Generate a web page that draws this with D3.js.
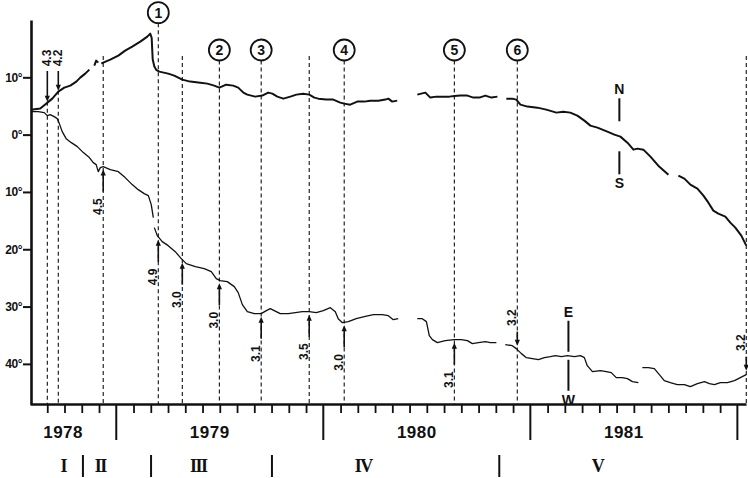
<!DOCTYPE html>
<html>
<head>
<meta charset="utf-8">
<script src="https://cdn.jsdelivr.net/npm/d3@7"></script>
<style>
  body { margin: 0; background: #fff; }
  svg { display: block; }
</style>
</head>
<body>
<svg width="748" height="478"></svg>
<script>
// ---- data (time in decimal years, values in degrees; N / E positive) ----
const nsSegments = [
  [[1978.589,4.36],[1978.633,4.54],[1978.667,5.58],[1978.691,6.28],[1978.720,7.50],[1978.749,8.20],[1978.778,8.55],[1978.807,9.25],[1978.826,9.95],[1978.850,10.64],[1978.870,11.34]],
  [[1978.894,12.04],[1978.903,12.91],[1978.913,12.56]],
  [[1978.928,12.39],[1978.937,12.56],[1978.971,13.09],[1979.010,13.78],[1979.043,14.66],[1979.077,15.36],[1979.116,16.23],[1979.150,17.10],[1979.164,17.62],[1979.171,16.90],[1979.176,13.09],[1979.184,11.90],[1979.193,11.30],[1979.208,10.99],[1979.251,10.64],[1979.280,10.29],[1979.319,9.60],[1979.357,9.25],[1979.406,9.07],[1979.440,8.90],[1979.473,8.55],[1979.498,8.20],[1979.531,8.72],[1979.565,8.55],[1979.589,8.20],[1979.614,7.33],[1979.633,6.98],[1979.671,6.63],[1979.705,6.81],[1979.734,7.33],[1979.754,7.15],[1979.778,6.63],[1979.807,6.28],[1979.841,6.63],[1979.870,6.98],[1979.903,7.15],[1979.932,6.98],[1979.957,6.46],[1979.976,6.28],[1980.014,6.11],[1980.048,6.11],[1980.082,5.58],[1980.101,5.41],[1980.130,5.23],[1980.164,5.76],[1980.198,5.76],[1980.227,5.93],[1980.266,5.93],[1980.300,6.11],[1980.314,6.28],[1980.333,5.76],[1980.357,5.93]],
  [[1980.454,6.98],[1980.473,7.15],[1980.493,7.33],[1980.517,6.46],[1980.546,6.63],[1980.580,6.63],[1980.609,6.63],[1980.633,6.72],[1980.662,6.81],[1980.696,6.81],[1980.725,6.46],[1980.754,6.46],[1980.783,6.81],[1980.812,6.46],[1980.841,6.63]],
  [[1980.884,6.28],[1980.913,6.28],[1980.932,6.11],[1980.952,5.23],[1980.986,4.89],[1981.034,4.71],[1981.077,4.36],[1981.126,3.84],[1981.159,4.01],[1981.193,3.84],[1981.227,3.32],[1981.261,2.44],[1981.290,1.57],[1981.324,1.22],[1981.372,0.52],[1981.406,0.00],[1981.435,-0.35],[1981.469,-1.40],[1981.498,-2.62],[1981.517,-2.44],[1981.546,-2.62],[1981.580,-3.84],[1981.618,-5.41],[1981.667,-6.98]],
  [[1981.715,-7.15],[1981.744,-7.68],[1981.773,-8.72],[1981.807,-9.42],[1981.836,-10.64],[1981.860,-11.87],[1981.884,-13.26],[1981.908,-13.78],[1981.942,-14.31],[1981.966,-15.36],[1981.990,-16.23],[1982.019,-17.62],[1982.043,-19.37]]
];

const ewSegments = [
  [[1978.589,4.01],[1978.623,4.01],[1978.652,3.84],[1978.667,3.32],[1978.681,3.49],[1978.700,3.14],[1978.715,2.79],[1978.725,1.92],[1978.739,0.52],[1978.758,-0.70],[1978.783,-1.40],[1978.812,-2.09],[1978.841,-3.14],[1978.870,-4.01],[1978.889,-4.89],[1978.903,-5.23],[1978.913,-6.46],[1978.923,-5.76],[1978.937,-5.58],[1978.971,-6.11],[1979.010,-6.46],[1979.043,-7.50],[1979.077,-8.72],[1979.106,-9.60],[1979.135,-10.29],[1979.155,-10.64],[1979.169,-12.21],[1979.179,-14.48]],
  [[1979.184,-16.23],[1979.198,-17.62],[1979.222,-18.67],[1979.251,-19.37],[1979.285,-20.42],[1979.314,-21.64],[1979.338,-22.51],[1979.382,-23.03],[1979.425,-23.38],[1979.459,-23.91],[1979.483,-25.13],[1979.502,-25.48],[1979.536,-25.65],[1979.570,-26.52],[1979.589,-27.57],[1979.609,-29.66],[1979.633,-30.89],[1979.667,-31.24],[1979.700,-31.24],[1979.725,-30.71],[1979.744,-30.36],[1979.763,-30.71],[1979.792,-31.24],[1979.831,-31.24],[1979.865,-31.06],[1979.899,-30.89],[1979.932,-30.89],[1979.966,-31.06],[1980.000,-30.71],[1980.034,-30.19],[1980.058,-30.89],[1980.072,-32.11],[1980.092,-32.81],[1980.121,-32.63],[1980.159,-32.11],[1980.198,-31.76],[1980.242,-31.41],[1980.285,-31.41],[1980.314,-31.59],[1980.338,-32.28],[1980.362,-32.11]],
  [[1980.454,-32.11],[1980.478,-32.11],[1980.498,-32.63],[1980.512,-35.07],[1980.527,-35.77],[1980.551,-36.29],[1980.589,-35.94],[1980.633,-35.77],[1980.667,-35.77],[1980.696,-35.94],[1980.720,-36.47],[1980.749,-36.29],[1980.783,-36.12],[1980.807,-36.29],[1980.836,-36.29]],
  [[1980.879,-36.64],[1980.913,-36.82],[1980.932,-37.34],[1980.957,-38.21],[1980.981,-38.91],[1981.010,-39.09],[1981.039,-39.26],[1981.068,-38.91],[1981.097,-38.74],[1981.121,-38.56],[1981.150,-38.74],[1981.179,-38.56],[1981.213,-38.74],[1981.242,-38.56],[1981.261,-38.91],[1981.275,-40.31],[1981.300,-41.35],[1981.338,-41.18],[1981.367,-41.35],[1981.391,-41.53],[1981.415,-42.40],[1981.444,-42.40],[1981.469,-42.58],[1981.493,-43.10],[1981.522,-43.28]],
  [[1981.541,-40.66],[1981.570,-40.66],[1981.599,-40.83],[1981.623,-41.88],[1981.647,-42.93],[1981.676,-43.28],[1981.710,-43.63],[1981.744,-43.63],[1981.773,-43.98],[1981.807,-43.45],[1981.841,-43.10],[1981.865,-43.45],[1981.889,-43.63],[1981.918,-43.28],[1981.952,-43.28],[1981.986,-42.93],[1982.014,-42.40],[1982.043,-41.88]]
];

// events: time, magnitude label, circled number, which curve the arrow points at, arrow direction
const eventTimes   = [1978.667, 1978.720, 1978.937, 1979.203, 1979.319, 1979.498, 1979.700, 1979.932, 1980.101, 1980.633, 1980.937, 1982.043];
const eventMags    = ["4.3", "4.2", "4.5", "4.9", "3.0", "3.0", "3.1", "3.5", "3.0", "3.1", "3.2", "3.2"];
const eventNumbers = ["", "", "", "1", "", "2", "3", "", "4", "5", "6", ""];
const eventCurve   = ["NS", "NS", "EW", "EW", "EW", "EW", "EW", "EW", "EW", "EW", "EW", "EW"];
const eventDir     = ["down", "down", "up", "up", "up", "up", "up", "up", "up", "up", "down", "down"];

const degTicks = [10, 0, -10, -20, -30, -40];
const degLabels = ["10°", "0°", "10°", "20°", "30°", "40°"];
const years = [1978, 1979, 1980, 1981];
const phaseNames = ["I", "II", "III", "IV", "V"];
const phaseBounds = [1978.839, 1979.168, 1979.752, 1980.850];
const phaseLabelAt = [1978.744, 1978.923, 1979.396, 1980.193, 1981.324];
const nsMarkerT = 1981.430;
const ewMarkerT = 1981.184;

// ---- scales ----
const tStart = 1978 + 7 / 12, tEnd = 1982 + 0.5 / 12;
const x = d3.scaleLinear().domain([tStart, tEnd]).range([30, 746]);
const y = d3.scaleLinear().domain([-47, 20]).range([404, 20]);

const ink = "#111";
const sans = "'Liberation Sans', Arial, sans-serif";
const svg = d3.select("svg");

// ---- axes ----
const yAxisG = svg.append("g")
  .attr("transform", `translate(${x(tStart) + 1},0)`)
  .call(d3.axisLeft(y).tickValues(degTicks).tickFormat((d, i) => degLabels[i])
    .tickSize(8).tickSizeOuter(0).tickPadding(1));
yAxisG.select(".domain").attr("stroke", ink).attr("stroke-width", 2.6);
yAxisG.selectAll(".tick line").attr("stroke", ink).attr("stroke-width", 2);
yAxisG.selectAll(".tick text").attr("fill", ink).attr("font-family", sans)
  .attr("font-weight", "bold").attr("font-size", 12).attr("letter-spacing", -0.5);

const monthTicks = d3.range(8, 49).filter(m => m % 12 !== 0).map(m => 1978 + m / 12);
const xAxisG = svg.append("g")
  .attr("transform", `translate(0,${y(-47)})`)
  .call(d3.axisBottom(x).tickValues(monthTicks).tickFormat("").tickSize(9).tickSizeOuter(0));
xAxisG.select(".domain").attr("stroke", ink).attr("stroke-width", 2.6);
xAxisG.selectAll(".tick line").attr("stroke", ink).attr("stroke-width", 1.8);

// year boundaries and labels
svg.append("g").selectAll("line").data(years.map(d => d + 1)).join("line")
  .attr("x1", d => x(d)).attr("x2", d => x(d))
  .attr("y1", 404).attr("y2", 440)
  .attr("stroke", ink).attr("stroke-width", 2);

svg.append("g").selectAll("text").data(years).join("text")
  .attr("x", d => (x(Math.max(d, tStart)) + x(Math.min(d + 1, tEnd))) / 2 - 10)
  .attr("y", 438)
  .attr("text-anchor", "middle")
  .attr("font-family", sans).attr("font-weight", "bold").attr("font-size", 17)
  .attr("letter-spacing", 0.5).attr("fill", ink)
  .text(d => d);

// phases
svg.append("g").selectAll("line").data(phaseBounds).join("line")
  .attr("x1", d => x(d)).attr("x2", d => x(d))
  .attr("y1", 455).attr("y2", 477)
  .attr("stroke", ink).attr("stroke-width", 2);

svg.append("g").selectAll("text").data(phaseNames).join("text")
  .attr("x", (d, i) => x(phaseLabelAt[i]))
  .attr("y", 472)
  .attr("text-anchor", "middle")
  .attr("font-family", "'Liberation Serif', 'Times New Roman', serif")
  .attr("font-weight", "bold").attr("font-size", 18).attr("letter-spacing", -1.5)
  .attr("fill", ink)
  .text(d => d);

// ---- curves ----
const line = d3.line().x(d => x(d[0])).y(d => y(d[1]));

svg.append("g").selectAll("path").data(nsSegments).join("path")
  .attr("d", line).attr("fill", "none")
  .attr("stroke", ink).attr("stroke-width", 2).attr("stroke-linejoin", "round");

svg.append("g").selectAll("path").data(ewSegments).join("path")
  .attr("d", line).attr("fill", "none")
  .attr("stroke", ink).attr("stroke-width", 1.3).attr("stroke-linejoin", "round");

function valueAt(segs, t) {
  for (const s of segs) {
    if (t >= s[0][0] && t <= s[s.length - 1][0]) {
      const i = d3.bisector(d => d[0]).left(s, t);
      if (i === 0) return s[0][1];
      const a = s[i - 1], b = s[i];
      return a[1] + (b[1] - a[1]) * (t - a[0]) / (b[0] - a[0]);
    }
  }
  return 0;
}

function arrow(g, xx, from, tip) {
  const dir = Math.sign(tip - from);
  g.append("line")
    .attr("x1", xx).attr("x2", xx).attr("y1", from).attr("y2", tip - dir * 3)
    .attr("stroke", ink).attr("stroke-width", 1.6);
  g.append("path")
    .attr("d", `M${xx},${tip}L${xx - 2.6},${tip - dir * 6}L${xx + 2.6},${tip - dir * 6}Z`)
    .attr("fill", ink);
}

function rotLabel(g, xx, yy, txt) {
  g.append("text")
    .attr("transform", `translate(${xx},${yy}) rotate(-90)`)
    .attr("text-anchor", "middle")
    .attr("font-family", sans).attr("font-weight", "bold").attr("font-size", 12)
    .attr("fill", ink)
    .text(txt);
}

// ---- events ----
const evG = svg.append("g");
eventTimes.forEach((t, i) => {
  const ex = x(t);
  const segs = eventCurve[i] === "NS" ? nsSegments : ewSegments;
  const cy = y(valueAt(segs, t));
  const g = evG.append("g");

  let dashTop = 56;
  if (eventNumbers[i]) {
    const nearY = d3.min(nsSegments.flat().filter(d => Math.abs(x(d[0]) - ex) < 12), d => y(d[1]));
    const circY = Math.min(50, (nearY ?? 100) - 21);
    dashTop = circY + 10.5;
    g.append("circle").attr("cx", ex).attr("cy", circY).attr("r", 10.5)
      .attr("fill", "#fff").attr("stroke", ink).attr("stroke-width", 1.8);
    g.append("text").attr("x", ex).attr("y", circY).attr("dy", "0.36em")
      .attr("text-anchor", "middle")
      .attr("font-family", sans).attr("font-weight", "bold").attr("font-size", 14)
      .attr("fill", ink)
      .text(eventNumbers[i]);
  }

  if (eventCurve[i] === "NS") {
    // label at the top, arrow down onto the N-S curve
    const tip = cy - 1;
    dashTop = tip;
    rotLabel(g, ex + 4, 58, eventMags[i]);
    arrow(g, ex, 71, tip);
  } else if (eventDir[i] === "up") {
    const tip = cy + 3;
    arrow(g, ex, tip + 22, tip);
    rotLabel(g, ex - 1.5, tip + 37, eventMags[i]);
  } else {
    const tip = cy - 4;
    arrow(g, ex, tip - 14, tip);
    rotLabel(g, ex - 1.5, tip - 28, eventMags[i]);
  }

  g.insert("line", ":first-child")
    .attr("x1", ex).attr("x2", ex).attr("y1", dashTop).attr("y2", 404)
    .attr("stroke", ink).attr("stroke-width", 1.1).attr("stroke-dasharray", "4,3");
});

// ---- direction markers ----
function marker(t, segs, gap, len, top, bottom) {
  const mx = x(t), my = y(valueAt(segs, t));
  const g = svg.append("g");
  g.append("line").attr("x1", mx).attr("x2", mx).attr("y1", my - gap - len).attr("y2", my - gap)
    .attr("stroke", ink).attr("stroke-width", 2);
  g.append("line").attr("x1", mx).attr("x2", mx).attr("y1", my + gap).attr("y2", my + gap + len)
    .attr("stroke", ink).attr("stroke-width", 2);
  g.append("text").attr("x", mx).attr("y", my - gap - len - 4)
    .attr("text-anchor", "middle").attr("font-family", sans).attr("font-weight", "bold")
    .attr("font-size", 14).attr("fill", ink).text(top);
  g.append("text").attr("x", mx).attr("y", my + gap + len + 14)
    .attr("text-anchor", "middle").attr("font-family", sans).attr("font-weight", "bold")
    .attr("font-size", 14).attr("fill", ink).text(bottom);
}
marker(nsMarkerT, nsSegments, 15, 23, "N", "S");
marker(ewMarkerT, ewSegments, 4, 31, "E", "W");
</script>
</body>
</html>
